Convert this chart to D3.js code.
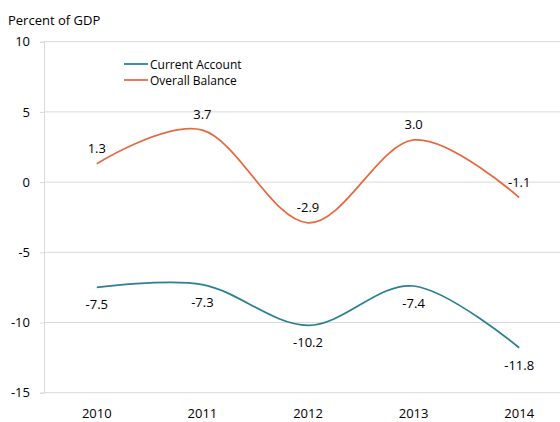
<!DOCTYPE html>
<html>
<head>
<meta charset="utf-8">
<script src="https://cdn.jsdelivr.net/npm/d3@7"></script>
<style>
  html, body { margin: 0; padding: 0; background: #fff; }
  svg { display: block; font-family: "Open Sans", "Liberation Sans", sans-serif; }
</style>
</head>
<body>
<svg id="chart" width="560" height="422"></svg>
<script>
const years = ["2010", "2011", "2012", "2013", "2014"];
const currentAccount = [-7.5, -7.3, -10.2, -7.4, -11.8];
const overallBalance = [1.3, 3.7, -2.9, 3.0, -1.1];
const yTicks = [10, 5, 0, -5, -10, -15];
const seriesNames = ["Current Account", "Overall Balance"];
const seriesColors = ["#2b7f93", "#e8693f"];

const svg = d3.select("#chart");
const plotLeft = 44, plotTop = 41.7, plotBottom = 392.7, plotRight = 572;

const x = d3.scaleBand().domain(years).range([plotLeft, plotRight]);
const y = d3.scaleLinear().domain([-15, 10]).range([plotBottom, plotTop]);

// gridlines
svg.append("g")
  .selectAll("line")
  .data(yTicks)
  .join("line")
  .attr("x1", plotLeft).attr("x2", 560)
  .attr("y1", d => y(d)).attr("y2", d => y(d))
  .attr("stroke", "#d9d9d9").attr("stroke-width", 1);

// y axis
const yAxis = svg.append("g")
  .attr("transform", `translate(${plotLeft},0)`)
  .call(d3.axisLeft(y).tickValues(yTicks).tickSize(4).tickPadding(10).tickFormat(d => String(d)));
yAxis.select(".domain").attr("stroke", "#d9d9d9");
yAxis.selectAll(".tick line").attr("stroke", "#d9d9d9");
yAxis.selectAll("text").attr("font-size", 13).attr("fill", "#000")
  .attr("font-family", "'Open Sans', sans-serif");

// x axis labels
svg.append("g")
  .selectAll("text")
  .data(years)
  .join("text")
  .attr("x", d => x(d) + x.bandwidth() / 2)
  .attr("y", 418)
  .attr("text-anchor", "middle")
  .attr("font-size", 13)
  .text(d => d);

// title
svg.append("text")
  .attr("x", 8).attr("y", 25)
  .attr("font-size", 13)
  .text("Percent of GDP");

const cx = (d, i) => x(years[i]) + x.bandwidth() / 2;
const line = d3.line().x(cx).y(d => y(d)).curve(d3.curveCatmullRom.alpha(0));

const series = [currentAccount, overallBalance];
series.forEach((vals, s) => {
  svg.append("path")
    .datum(vals)
    .attr("d", line)
    .attr("fill", "none")
    .attr("stroke", seriesColors[s])
    .attr("stroke-width", 1.75);

  svg.append("g")
    .selectAll("text")
    .data(vals)
    .join("text")
    .attr("x", cx)
    .attr("y", d => s === 0 ? y(d) + 22 : y(d) - 11)
    .attr("text-anchor", "middle")
    .attr("font-size", 13)
    .text(d => d.toFixed(1));
});

// legend
const legend = svg.append("g");
seriesNames.forEach((name, i) => {
  const ly = 64 + i * 16;
  legend.append("line")
    .attr("x1", 124).attr("x2", 148)
    .attr("y1", ly).attr("y2", ly)
    .attr("stroke", seriesColors[i]).attr("stroke-width", 1.75);
  legend.append("text")
    .attr("x", 150).attr("y", ly + 4.5)
    .attr("font-size", 12)
    .text(name);
});
</script>
</body>
</html>
